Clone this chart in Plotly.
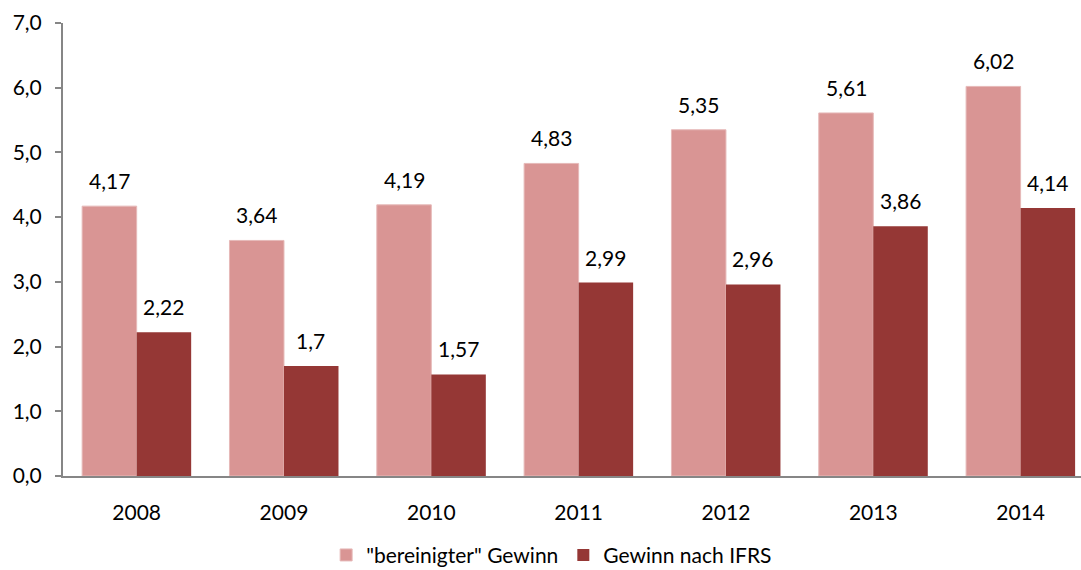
import plotly.graph_objects as go

years = ["2008", "2009", "2010", "2011", "2012", "2013", "2014"]
bereinigt = [4.17, 3.64, 4.19, 4.83, 5.35, 5.61, 6.02]
ifrs = [2.22, 1.70, 1.57, 2.99, 2.96, 3.86, 4.14]
labels_b = ["4,17", "3,64", "4,19", "4,83", "5,35", "5,61", "6,02"]
labels_i = ["2,22", "1,7", "1,57", "2,99", "2,96", "3,86", "4,14"]

FONT = "Lato"
FS = 21
fig = go.Figure()
fig.add_trace(go.Bar(x=years, y=bereinigt, name='"bereinigter" Gewinn',
                     marker=dict(color="#D99594", line=dict(color="#E6B9B8", width=1))))
fig.add_trace(go.Bar(x=years, y=ifrs, name="Gewinn nach IFRS",
                     marker=dict(color="#953735", line=dict(color="#953735", width=0))))

for i, (v, t) in enumerate(zip(bereinigt, labels_b)):
    fig.add_annotation(x=i, y=v, xref="x", yref="y", text=t, showarrow=False,
                       xshift=-27, yshift=11, yanchor="bottom",
                       font=dict(family=FONT, size=FS, color="#000"))
for i, (v, t) in enumerate(zip(ifrs, labels_i)):
    fig.add_annotation(x=i, y=v, xref="x", yref="y", text=t, showarrow=False,
                       xshift=27, yshift=11, yanchor="bottom",
                       font=dict(family=FONT, size=FS, color="#000"))

fig.update_layout(
    width=1081, height=570,
    margin=dict(l=63, r=0, t=23, b=94, autoexpand=False),
    plot_bgcolor="white", paper_bgcolor="white",
    separators=",.",
    barmode="group", bargap=0.26, bargroupgap=0,
    font=dict(family=FONT, size=FS, color="#000"),
    showlegend=True,
    legend=dict(orientation="h", x=0.48, xanchor="center", y=-0.175, yanchor="middle",
                font=dict(family=FONT, size=FS), itemwidth=30, traceorder="normal"),
    xaxis=dict(type="category", range=[-0.5, 6.41], showline=True, linecolor="#868686",
               linewidth=2, ticks="", showgrid=False, ticklabelstandoff=17, automargin=False),
    yaxis=dict(range=[0, 7], dtick=1, tickformat=".1f", showline=True, linecolor="#868686",
               linewidth=2, ticks="outside", ticklen=6, tickcolor="#868686", tickwidth=2,
               showgrid=False, zeroline=False, ticklabelstandoff=9, automargin=False),
)
fig.write_html("out.html")
